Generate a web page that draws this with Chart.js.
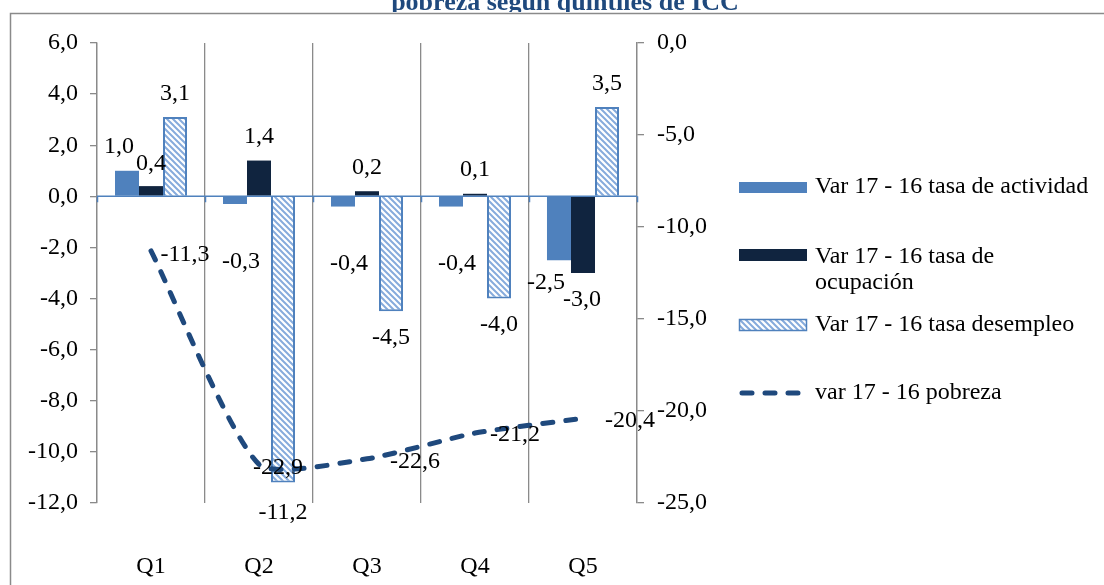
<!DOCTYPE html>
<html>
<head>
<meta charset="utf-8">
<script src="https://cdn.jsdelivr.net/npm/chart.js@4.4.1/dist/chart.umd.min.js"></script>
<style>
  html, body { margin: 0; padding: 0; background: #fff; }
  canvas { display: block; }
</style>
</head>
<body>
<canvas id="myChart" width="1104" height="585"></canvas>
<script>
// data \\
const quintiles = ['Q1', 'Q2', 'Q3', 'Q4', 'Q5'];
const tasaActividad = [1.0, -0.3, -0.4, -0.4, -2.5];
const tasaOcupacion = [0.4, 1.4, 0.2, 0.1, -3.0];
const tasaDesempleo = [3.1, -11.2, -4.5, -4.0, 3.5];
const pobreza = [-11.3, -22.9, -22.6, -21.2, -20.4];
const leftTicks = [-12, -10, -8, -6, -4, -2, 0, 2, 4, 6];
const rightTicks = [-25, -20, -15, -10, -5, 0];

const seriesNames = ['Var 17 - 16 tasa de actividad', 'Var 17 - 16 tasa de ocupación',
    'Var 17 - 16 tasa desempleo', 'var 17 - 16 pobreza'];

// colors \\
const blueColor = '#4f81bd';
const navyColor = '#10243f';
const stripeColor = '#86abdc';
const lineColor = '#1f497d';
const gridColor = '#8a8a8a';
const font = { family: 'Liberation Serif', size: 24 };
const lineDash = [10, 13];

// label nudges (px), like Excel moved them \\
const labelDx = [
    [-8, 6, 6, 6, -13],
    [0, 0, 0, 0, -1],
    [0, 0, 0, 0, 0],
    [34, 19, 48, 40, 47]
];
const labelDy = [
    [-24, 58, 57, 57, 22],
    [-22, -24, -24, -24, 27],
    [-23, 30, 26, 26, -23],
    [4, 3, 3, 2, 2]
];

function fmt(v) {
    return v.toFixed(1).replace('.', ',');
}

var ctx = document.getElementById('myChart');
var c2d = ctx.getContext('2d');

function makeStripes() {
    const c = document.createElement('canvas');
    c.width = 6; c.height = 6;
    const p = c.getContext('2d');
    p.fillStyle = '#fff';
    p.fillRect(0, 0, 6, 6);
    p.strokeStyle = stripeColor;
    p.lineWidth = 2;
    p.beginPath();
    p.moveTo(-1, -1); p.lineTo(7, 7);
    p.moveTo(-1, 5); p.lineTo(1, 7);
    p.moveTo(5, -1); p.lineTo(7, 1);
    p.stroke();
    return c2d.createPattern(c, 'repeat');
}
const stripes = makeStripes();

// frame + title + legend + labels \\
const decor = {
    id: 'decor',
    beforeDraw(chart) {
        const g = chart.ctx;
        g.save();
        g.fillStyle = '#fff';
        g.fillRect(0, 0, chart.width, chart.height);
        g.restore();
    },
    afterDatasetsDraw(chart) {
        const g = chart.ctx;
        const area = chart.chartArea;
        const y0 = chart.scales.y.getPixelForValue(0);
        g.save();
        // category axis at zero
        g.strokeStyle = blueColor;
        g.lineWidth = 1.5;
        g.beginPath();
        g.moveTo(area.left, y0);
        g.lineTo(area.right, y0);
        const step = (area.right - area.left) / quintiles.length;
        for (let i = 0; i <= quintiles.length; i++) {
            const x = Math.round(area.left + i * step) + 0.5;
            g.moveTo(x, y0);
            g.lineTo(x, y0 + 6);
        }
        g.stroke();

        // data labels
        g.font = font.size + 'px ' + font.family;
        g.fillStyle = '#000';
        g.textAlign = 'center';
        g.textBaseline = 'middle';
        chart.data.datasets.forEach((ds, i) => {
            const meta = chart.getDatasetMeta(i);
            meta.data.forEach((el, j) => {
                g.fillText(fmt(ds.data[j]), el.x + labelDx[i][j], el.y + labelDy[i][j]);
            });
        });
        g.restore();
    },
    afterDraw(chart) {
        const g = chart.ctx;
        g.save();
        // title (cut off at top)
        g.font = 'bold 26px Liberation Serif';
        g.fillStyle = lineColor;
        g.textAlign = 'center';
        g.textBaseline = 'alphabetic';
        g.fillText('pobreza según quintiles de ICC', 565, 10);
        g.fillStyle = '#fff';
        g.fillRect(0, 12, chart.width, 3);

        // frame
        g.strokeStyle = gridColor;
        g.lineWidth = 1.5;
        g.beginPath();
        g.moveTo(10.5, chart.height);
        g.lineTo(10.5, 13.5);
        g.lineTo(chart.width, 13.5);
        g.stroke();

        // legend
        const lx = 739, lw = 68, tx = 815;
        g.font = font.size + 'px ' + font.family;
        g.textAlign = 'left';
        g.textBaseline = 'middle';

        g.fillStyle = blueColor;
        g.fillRect(lx, 182, lw, 11);
        g.fillStyle = '#000';
        g.fillText(seriesNames[0], tx, 187);

        g.fillStyle = navyColor;
        g.fillRect(lx, 249, lw, 12);
        g.fillStyle = '#000';
        g.fillText('Var 17 - 16 tasa de', tx, 257);
        g.fillText('ocupación', tx, 283);

        g.fillStyle = stripes;
        g.fillRect(lx, 319, lw, 12);
        g.strokeStyle = blueColor;
        g.lineWidth = 1.5;
        g.strokeRect(lx + 0.5, 319.5, lw - 1, 11);
        g.fillStyle = '#000';
        g.fillText(seriesNames[2], tx, 325);

        g.strokeStyle = lineColor;
        g.lineWidth = 5;
        g.lineCap = 'round';
        g.setLineDash(lineDash);
        g.beginPath();
        g.moveTo(lx + 3, 393);
        g.lineTo(lx + 62, 393);
        g.stroke();
        g.setLineDash([]);
        g.fillStyle = '#000';
        g.fillText(seriesNames[3], tx, 393);
        g.restore();
    }
};

var data = {
    labels: quintiles,
    datasets: [{
        type: 'bar',
        label: seriesNames[0],
        data: tasaActividad,
        backgroundColor: blueColor,
        borderWidth: 0,
        yAxisID: 'y',
        order: 2
    }, {
        type: 'bar',
        label: seriesNames[1],
        data: tasaOcupacion,
        backgroundColor: navyColor,
        borderWidth: 0,
        yAxisID: 'y',
        order: 2
    }, {
        type: 'bar',
        label: seriesNames[2],
        data: tasaDesempleo,
        backgroundColor: stripes,
        borderColor: blueColor,
        borderWidth: 2,
        yAxisID: 'y',
        order: 2
    }, {
        type: 'line',
        label: seriesNames[3],
        data: pobreza,
        borderColor: lineColor,
        borderWidth: 5,
        borderDash: lineDash,
        borderCapStyle: 'round',
        tension: 0.2,
        pointRadius: 0,
        fill: false,
        yAxisID: 'y2',
        order: 1
    }]
};

var comboChart = new Chart(ctx, {
    type: 'bar',
    data: data,
    plugins: [decor],
    options: {
        responsive: false,
        animation: false,
        layout: { padding: { top: 43, left: 0, right: 0, bottom: 0 } },
        datasets: {
            bar: { categoryPercentage: 0.667, barPercentage: 1 }
        },
        plugins: {
            legend: { display: false },
            title: { display: false },
            tooltip: { enabled: false }
        },
        scales: {
            x: {
                offset: true,
                grid: { offset: true, color: gridColor, lineWidth: 1.3, drawTicks: false },
                border: { display: false },
                ticks: { font: font, color: '#000', padding: 49 },
                afterFit: s => { s.height = 82; }
            },
            y: {
                position: 'left',
                min: -12,
                max: 6,
                afterBuildTicks: s => { s.ticks = leftTicks.map(v => ({ value: v })); },
                grid: { drawOnChartArea: false, tickColor: gridColor, tickLength: 7, lineWidth: 1.3 },
                border: { color: gridColor, width: 1.3 },
                ticks: { font: font, color: '#000', padding: 12, callback: v => fmt(v) },
                afterFit: s => { s.width = 97; }
            },
            y2: {
                position: 'right',
                min: -25,
                max: 0,
                afterBuildTicks: s => { s.ticks = rightTicks.map(v => ({ value: v })); },
                grid: { drawOnChartArea: false, tickColor: gridColor, tickLength: 7, lineWidth: 1.3 },
                border: { color: gridColor, width: 1.3 },
                ticks: { font: font, color: '#000', padding: 13, callback: v => fmt(v) },
                afterFit: s => { s.width = 467; }
            }
        }
    }
});
</script>
</body>
</html>
